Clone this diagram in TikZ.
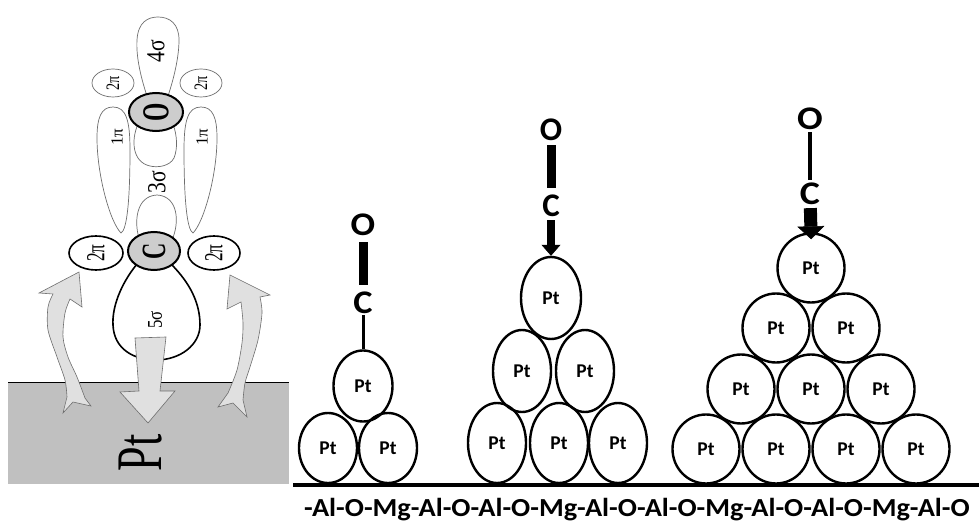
\documentclass[tikz,border=0pt]{standalone}
\usepackage{fontspec}
\usepackage{graphicx}
\setmainfont{Liberation Serif}
\newfontfamily\calib{Carlito}
\usetikzlibrary{shapes.geometric,arrows.meta}

\definecolor{surface}{RGB}{192,192,192}
\definecolor{ringfill}{RGB}{205,205,205}
\definecolor{lobeline}{RGB}{110,110,110}
\definecolor{arrowfill}{RGB}{224,224,224}

% rotated, horizontally squeezed orbital label: size, squeeze, text
\newcommand{\orblabel}[3]{\rotatebox{90}{\scalebox{#2}[1]{\fontsize{#1}{#1}\selectfont #3}}}
% horizontally widened text
\newcommand{\widetext}[2]{\scalebox{#1}[1]{#2}}

\begin{document}
\begin{tikzpicture}[x=1pt,y=-1pt,
  lobe/.style={draw=lobeline, line width=0.7pt, fill=white},
  ring/.style={ellipse, draw=black, line width=2pt, fill=ringfill, inner sep=0pt},
  orbit/.style={draw=black, line width=1.6pt, fill=white},
  orbnode/.style={ellipse, orbit, inner sep=0pt},
  thinorb/.style={ellipse, lobe, inner sep=0pt},
  flux/.style={draw=lobeline, line width=0.6pt, fill=arrowfill, line join=miter},
  atom/.style={ellipse, draw=black, line width=2.4pt, inner sep=0pt,
    font=\calib\bfseries\fontsize{19.5}{19.5}\selectfont},
  elem/.style={inner sep=0pt, font=\calib\bfseries\fontsize{33}{33}\selectfont},
  lab/.style={inner sep=0pt}
]
\useasboundingbox (0,0) rectangle (979,529);

% ---------- CO on a Pt surface: orbital picture ----------
\fill[surface] (8,382) rectangle (289,484);
\draw[line width=0.8pt] (8,382) -- (289,382);

% 4sigma lobe
\filldraw[lobe] (147,96) .. controls (140,75) and (136,55) .. (137,40)
  .. controls (138,22) and (148,17) .. (158,17)
  .. controls (170,17) and (179,24) .. (179,40)
  .. controls (179,55) and (175,75) .. (168,96) -- cycle;
% 1pi lobes
\filldraw[lobe] (113,107) .. controls (101,107) and (97,118) .. (97,138)
  .. controls (97,175) and (110,222) .. (121,233)
  .. controls (127,230) and (130,200) .. (130,150)
  .. controls (130,120) and (126,107) .. (113,107) -- cycle;
\filldraw[lobe] (201,107) .. controls (213,107) and (217,118) .. (217,138)
  .. controls (217,175) and (204,222) .. (193,233)
  .. controls (187,230) and (184,200) .. (184,150)
  .. controls (184,120) and (188,107) .. (201,107) -- cycle;
% 3sigma lobes
\filldraw[lobe] (138,124) .. controls (131,140) and (132,162) .. (150,166)
  .. controls (158,168) and (170,166) .. (174,158)
  .. controls (178,148) and (177,135) .. (173,124) -- cycle;
\filldraw[lobe] (139,238) .. controls (134,222) and (136,196) .. (157,195)
  .. controls (178,196) and (180,222) .. (172,240) -- cycle;
% 5sigma lobe
\filldraw[orbit] (137,264) .. controls (120,285) and (112,308) .. (113,325)
  .. controls (114,350) and (135,360) .. (156,360)
  .. controls (180,360) and (200,345) .. (200,325)
  .. controls (200,303) and (190,283) .. (171,264) -- cycle;

% upper 2pi* circles
\node[thinorb, minimum width=42, minimum height=28] (piA) at (113,83) {\orblabel{19}{0.75}{2π}};
\node[thinorb, minimum width=42, minimum height=28] (piB) at (201,83) {\orblabel{19}{0.75}{2π}};

% O and C rings
\node[ring, minimum width=54, minimum height=38] (Oring) at (156,112) {\orblabel{38}{0.62}{\bfseries O}};
\node[ring, minimum width=52, minimum height=38] (Cring) at (154,251) {\orblabel{34}{0.66}{\bfseries C}};

% lower 2pi* circles
\node[orbnode, minimum width=54, minimum height=34] (piC) at (96,253) {\orblabel{26}{0.66}{2π}};
\node[orbnode, minimum width=52, minimum height=34] (piD) at (214,253) {\orblabel{26}{0.66}{2π}};

% orbital labels
\node[lab] (l4s) at (156,51) {\orblabel{26}{0.83}{4σ}};
\node[lab] (l1a) at (117,137) {\orblabel{17}{1}{1π}};
\node[lab] (l1b) at (202,137) {\orblabel{17}{1}{1π}};
\node[lab] (l3s) at (157,182) {\orblabel{26}{0.83}{3σ}};
\node[lab] (l5s) at (155,320) {\orblabel{21}{0.8}{5σ}};
\node[lab] (lPt) at (141,453) {\orblabel{65}{0.68}{Pt}};

% sigma donation into the metal
\filldraw[flux] (135,338) -- (139,391) -- (120,392) -- (148,423) -- (175,391)
  -- (160,391) -- (166,337) -- cycle;
% pi back-donation from the metal
\filldraw[flux] (79,272) -- (82,307)
  -- plot[smooth] coordinates {(70,299) (65,313) (63,337) (68,357) (77,377) (85,398)}
  -- (91,406) -- (73,402) -- (63,413)
  -- plot[smooth] coordinates {(67,397) (65,380) (57,357) (48,330) (48,307) (53,294)}
  -- (39,293) -- cycle;
\filldraw[flux] (230,275) -- (270,295)
  -- plot[smooth] coordinates {(260,297) (262,313) (258,340) (250,367) (245,383) (243,400)}
  -- (247,417) -- (233,403) -- (218,407)
  -- plot[smooth] coordinates {(228,393) (237,370) (242,343) (243,323) (241,302)}
  -- (227,309) -- cycle;

% ---------- Pt clusters on the support ----------
\draw[line width=4.5pt] (293,485) -- (979,485);
\node[anchor=base, inner sep=0pt, font=\calib\bfseries\fontsize{26}{26}\selectfont]
  (support) at (637,516) {\widetext{1.09}{-Al-O-Mg-Al-O-Al-O-Mg-Al-O-Al-O-Mg-Al-O-Al-O-Mg-Al-O}};

% cluster of three
\node[atom, minimum width=58, minimum height=70] (a21) at (328,448) {Pt};
\node[atom, minimum width=58, minimum height=70] (a22) at (388,448) {Pt};
\node[atom, minimum width=59, minimum height=71] (a1) at (363,386) {Pt};
\node[elem] (O1) at (363,225) {\widetext{1.1}{O}};
\node[elem] (C1) at (363,303) {\widetext{1.1}{C}};
\draw[line width=9pt, shorten <=6pt, shorten >=7pt] (O1) -- (C1);
\draw[line width=3pt, shorten <=1pt] (C1) -- (a1.north);

% cluster of six
\node[atom, minimum width=58, minimum height=80] (b31) at (497,443) {Pt};
\node[atom, minimum width=58, minimum height=80] (b32) at (559,443) {Pt};
\node[atom, minimum width=58, minimum height=80] (b33) at (618,443) {Pt};
\node[atom, minimum width=58, minimum height=82] (b21) at (522,371) {Pt};
\node[atom, minimum width=58, minimum height=82] (b22) at (585,371) {Pt};
\node[atom, minimum width=60, minimum height=82] (b1) at (551,298) {Pt};
\node[elem] (O2) at (551,130) {\widetext{1.0}{O}};
\node[elem] (C2) at (551,206) {\widetext{1.0}{C}};
\draw[line width=9pt, shorten <=4pt, shorten >=7pt] (O2) -- (C2);
\draw[line width=8pt, shorten <=3pt,
  -{Triangle[width=19pt,length=11pt,line width=0.5pt]}] (C2) -- (b1.north);

% cluster of ten
\node[atom, minimum width=67, minimum height=69] (c41) at (706,449) {Pt};
\node[atom, minimum width=67, minimum height=69] (c42) at (776,449) {Pt};
\node[atom, minimum width=67, minimum height=69] (c43) at (846,449) {Pt};
\node[atom, minimum width=67, minimum height=69] (c44) at (916,449) {Pt};
\node[atom, minimum width=67, minimum height=69] (c31) at (741,389) {Pt};
\node[atom, minimum width=67, minimum height=69] (c32) at (811,389) {Pt};
\node[atom, minimum width=67, minimum height=69] (c33) at (881,389) {Pt};
\node[atom, minimum width=67, minimum height=69] (c21) at (776,328) {Pt};
\node[atom, minimum width=67, minimum height=69] (c22) at (846,328) {Pt};
\node[atom, minimum width=67, minimum height=69] (c1) at (811,268) {Pt};
\node[elem] (O3) at (810,119) {\widetext{1.15}{O}};
\node[elem] (C3) at (810,194) {\widetext{1.15}{C}};
\draw[line width=4pt, shorten <=2pt, shorten >=3pt] (O3) -- (C3);
\draw[line width=13pt, shorten <=3pt, shorten >=-7pt,
  -{Triangle[width=27pt,length=13pt,line width=0.5pt]}] (C3) -- (c1.north);
\end{tikzpicture}
\end{document}
